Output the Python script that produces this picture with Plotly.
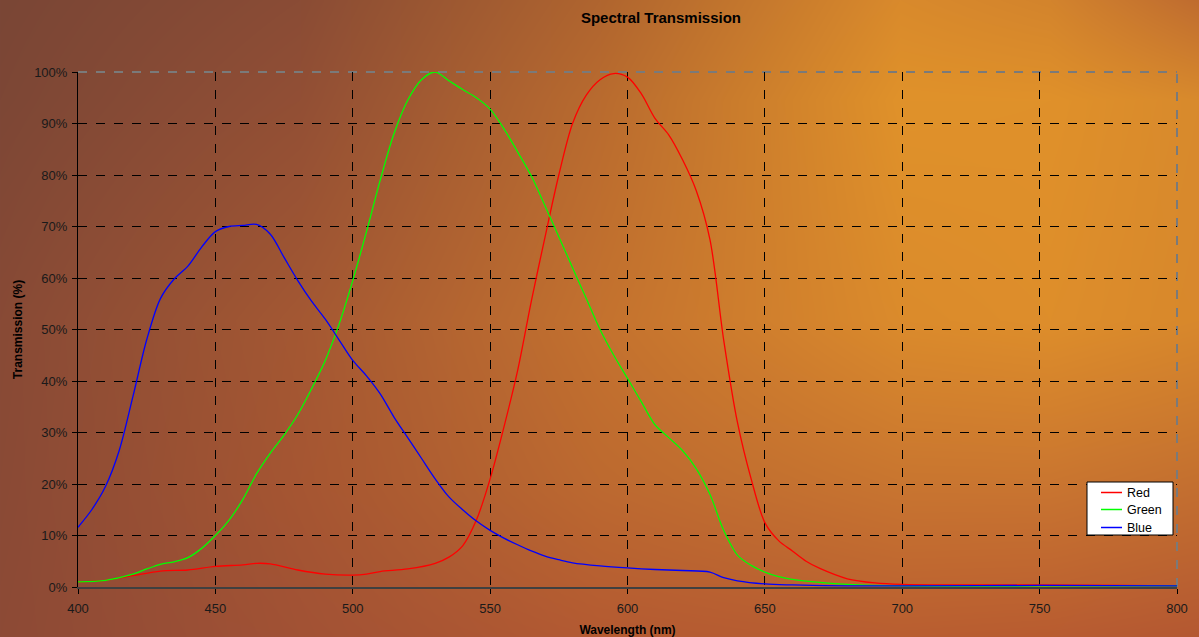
import base64
import struct
import zlib

import numpy as np
import plotly.graph_objects as go

# ---- data -------------------------------------------------------------
wavelength_red = [400, 410, 420, 430, 440, 450, 460, 465, 470, 480, 490, 500, 505, 510,
                  520, 530, 535, 540, 545, 550, 555, 560, 565, 570, 575, 580, 585, 590,
                  595, 600, 605, 610, 615, 620, 625, 630, 635, 640, 645, 650, 655, 660,
                  665, 670, 680, 690, 700, 720, 750, 780, 800]
transmission_red = [1.0, 1.3, 2.2, 3.1, 3.3, 4.0, 4.3, 4.6, 4.5, 3.3, 2.5, 2.3, 2.5, 3.0,
                    3.5, 4.6, 5.8, 8.0, 13.0, 21.0, 31.0, 42.0, 55.5, 68.0, 80.0, 90.0, 95.5, 98.5,
                    99.7, 99.0, 95.8, 91.0, 87.8, 83.0, 77.0, 67.5, 48.0, 32.0, 21.0, 12.5, 9.0, 7.0,
                    5.0, 3.6, 1.6, 0.8, 0.5, 0.4, 0.4, 0.3, 0.2]

wavelength_green = [400, 410, 420, 425, 430, 435, 440, 445, 450, 455, 460, 465, 470, 475,
                    480, 485, 490, 495, 500, 505, 510, 515, 520, 525, 530, 535, 540,
                    545, 550, 555, 560, 565, 570, 575, 580, 585, 590, 595, 600, 605, 610,
                    615, 620, 625, 630, 635, 640, 645, 650, 655, 660, 670, 680, 700, 750, 800]
transmission_green = [1.0, 1.3, 2.5, 3.5, 4.4, 4.9, 5.7, 7.5, 10.0, 13.0, 17.0, 22.0, 26.0, 29.5,
                      33.5, 38.5, 44.0, 51.0, 59.5, 69.0, 79.0, 88.0, 94.5, 98.5, 100.0, 98.3, 96.6,
                      95.0, 92.8, 89.0, 84.5, 79.8, 74.0, 68.0, 62.0, 56.0, 50.0, 45.0, 40.5, 36.0, 31.5,
                      29.0, 26.5, 23.0, 18.0, 11.0, 6.2, 4.2, 2.9, 2.0, 1.5, 0.9, 0.5, 0.2, 0.2, 0.2]

wavelength_blue = [400, 405, 410, 415, 420, 425, 430, 435, 440, 445, 450, 455, 460,
                   465, 470, 475, 480, 485, 490, 495, 500, 505, 510, 515, 520, 525,
                   530, 535, 540, 545, 550, 555, 560, 565, 570, 575, 580, 590, 600, 610,
                   620, 630, 635, 640, 650, 660, 680, 700, 750, 800]
transmission_blue = [11.6, 15.0, 19.5, 26.5, 37.0, 48.0, 56.0, 59.8, 62.3, 66.0, 69.0, 70.0, 70.2,
                     70.4, 68.5, 64.0, 59.5, 55.5, 52.0, 48.0, 44.0, 41.0, 37.5, 33.0, 29.0, 25.0,
                     21.0, 17.5, 15.0, 12.8, 11.0, 9.5, 8.2, 7.0, 6.0, 5.3, 4.7, 4.1, 3.7, 3.4,
                     3.2, 2.9, 1.8, 1.2, 0.6, 0.4, 0.2, 0.2, 0.3, 0.2]

x_ticks = [400, 450, 500, 550, 600, 650, 700, 750, 800]
y_ticks = [0, 10, 20, 30, 40, 50, 60, 70, 80, 90, 100]
y_tick_labels = [f"{v}%" for v in y_ticks]

series_names = ["Red", "Green", "Blue"]
series_colors = ["#ff0000", "#00ff00", "#0000ff"]
series_x = [wavelength_red, wavelength_green, wavelength_blue]
series_y = [transmission_red, transmission_green, transmission_blue]

# ---- page geometry ----------------------------------------------------
W, H = 1199, 637
ML, MR, MT, MB = 78, 22, 72, 50
PW, PH = W - ML - MR, H - MT - MB


def px_x(px):
    """Horizontal pixel position -> paper coordinate."""
    return (px - ML) / PW


def px_y(py):
    """Vertical pixel position (from top) -> paper coordinate."""
    return (MT + PH - py) / PH


# ---- warm gradient backdrop, rendered to a PNG -----------------------
def hex_rgb(h):
    h = h.lstrip("#")
    return [int(h[i:i + 2], 16) for i in (0, 2, 4)]


grad_x = [0, 300, 600, 900, 1050, 1199]
grad_y = [0, 100, 320, 480, 637]
grad_rows = [
    ["#7a4636", "#8a4c35", "#b0652f", "#d98a2c", "#d3842d", "#bf6c30"],
    ["#7d4736", "#924f35", "#b96b2f", "#e0922a", "#e0912a", "#d88a2d"],
    ["#884a36", "#a45833", "#c4722f", "#db8b2c", "#de8e2b", "#d8882c"],
    ["#8a4a36", "#a65632", "#bd6a30", "#c97630", "#ca7630", "#c47030"],
    ["#8d4a36", "#a25235", "#b45a32", "#b95e31", "#b85c31", "#b45832"],
]
ctrl = np.array([[hex_rgb(c) for c in row] for row in grad_rows], dtype=float)
xs = np.arange(W)
ys = np.arange(H)
rows_interp = np.stack(
    [np.stack([np.interp(xs, grad_x, ctrl[r, :, ch]) for ch in range(3)], axis=-1)
     for r in range(len(grad_y))]
)  # (nrows, W, 3)
img = np.empty((H, W, 3))
for ch in range(3):
    for xi in range(W):
        img[:, xi, ch] = np.interp(ys, grad_y, rows_interp[:, xi, ch])
img = np.clip(img, 0, 255).astype(np.uint8)


def to_png(arr):
    h, w, _ = arr.shape
    raw = b"".join(b"\x00" + arr[r].tobytes() for r in range(h))

    def chunk(tag, data):
        c = struct.pack(">I", len(data)) + tag + data
        return c + struct.pack(">I", zlib.crc32(tag + data) & 0xFFFFFFFF)

    return (b"\x89PNG\r\n\x1a\n"
            + chunk(b"IHDR", struct.pack(">IIBBBBB", w, h, 8, 2, 0, 0, 0))
            + chunk(b"IDAT", zlib.compress(raw, 9))
            + chunk(b"IEND", b""))


bg_uri = "data:image/png;base64," + base64.b64encode(to_png(img)).decode()

# ---- figure ------------------------------------------------------------
fig = go.Figure()
for name, wl, tr, color in zip(series_names, series_x, series_y, series_colors):
    fig.add_trace(go.Scatter(
        x=wl, y=tr, name=name, mode="lines", showlegend=False,
        line=dict(color=color, width=1.3, shape="spline", smoothing=0.9),
    ))

font_family = "Liberation Sans, Arial, sans-serif"

shapes = [
    # grey dashed frame on the top and right edges of the plot area
    dict(type="line", xref="paper", yref="paper", x0=0, x1=1, y0=1, y1=1,
         line=dict(color="#7a7a7a", width=2, dash="dash"), layer="between"),
    dict(type="line", xref="paper", yref="paper", x0=1, x1=1, y0=0, y1=1,
         line=dict(color="#7a7a7a", width=2, dash="dash"), layer="between"),
    # legend box
    dict(type="rect", xref="paper", yref="paper",
         x0=px_x(1087), x1=px_x(1173), y0=px_y(535), y1=px_y(482),
         fillcolor="#ffffff", line=dict(color="#000000", width=1), layer="above"),
]
annotations = []
legend_rows = [492.5, 509.5, 527.5]
for name, color, row in zip(series_names, series_colors, legend_rows):
    shapes.append(dict(type="line", xref="paper", yref="paper",
                       x0=px_x(1101), x1=px_x(1122), y0=px_y(row), y1=px_y(row),
                       line=dict(color=color, width=1.5), layer="above"))
    annotations.append(dict(xref="paper", yref="paper", x=px_x(1125), y=px_y(row),
                            xanchor="left", yanchor="middle", text=name, showarrow=False,
                            font=dict(size=12.5, color="#000000")))

fig.update_layout(
    width=W, height=H,
    margin=dict(l=ML, r=MR, t=MT, b=MB, pad=0, autoexpand=False),
    paper_bgcolor="rgba(0,0,0,0)",
    plot_bgcolor="rgba(0,0,0,0)",
    font=dict(family=font_family, size=13, color="#1a1a1a"),
    title=dict(
        text="<b>Spectral Transmission</b>",
        font=dict(size=15, color="#000000"),
        x=px_x(661), xref="paper", xanchor="center",
        y=1 - 18 / H, yref="container", yanchor="middle",
    ),
    xaxis=dict(
        range=[400, 800], tickvals=x_ticks, ticktext=[str(v) for v in x_ticks],
        showgrid=True, gridcolor="#000000", gridwidth=1, griddash="dash",
        zeroline=False, showline=True, linecolor="#404040", linewidth=2,
        ticks="outside", ticklen=5, tickcolor="#000000", tickwidth=1,
        ticklabelstandoff=3, automargin=False,
        tickfont=dict(size=13, color="#1a1a1a"),
        title=dict(text="<b>Wavelength (nm)</b>", font=dict(size=12, color="#000000"),
                   standoff=12),
    ),
    yaxis=dict(
        range=[0, 100], tickvals=y_ticks, ticktext=y_tick_labels,
        showgrid=True, gridcolor="#000000", gridwidth=1, griddash="dash",
        zeroline=False, showline=True, linecolor="#000000", linewidth=1,
        ticks="outside", ticklen=5, tickcolor="#000000", tickwidth=1,
        ticklabelstandoff=2, automargin=False,
        tickfont=dict(size=13, color="#1a1a1a"),
        title=dict(text="<b>Transmission (%)</b>", font=dict(size=12, color="#000000"),
                   standoff=8),
    ),
    showlegend=False,
    images=[dict(
        source=bg_uri, xref="paper", yref="paper",
        x=-ML / PW, y=1 + MT / PH, sizex=W / PW, sizey=H / PH,
        xanchor="left", yanchor="top", sizing="stretch", layer="below",
    )],
    shapes=shapes,
    annotations=annotations,
)

fig.write_html("out.html")
